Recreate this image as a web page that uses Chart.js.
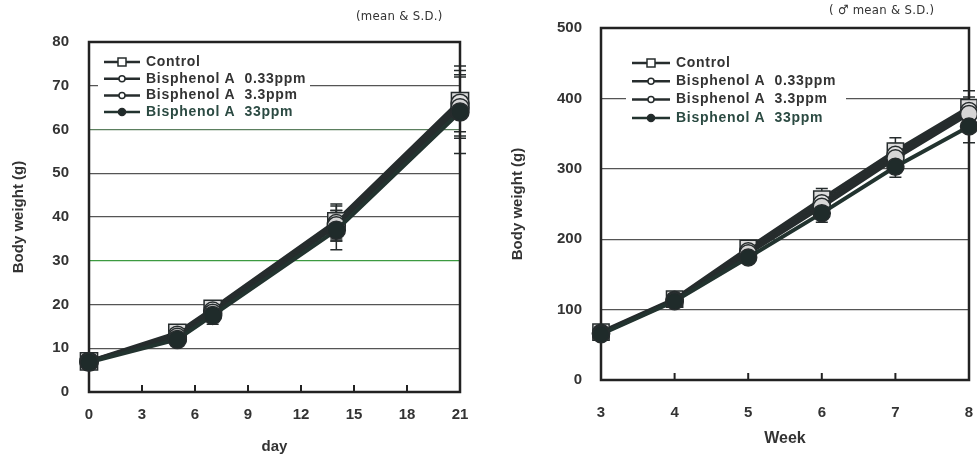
<!DOCTYPE html>
<html>
<head>
<meta charset="utf-8">
<script src="https://cdn.jsdelivr.net/npm/chart.js@4.4.1/dist/chart.umd.min.js"></script>
<style>
    html, body { margin: 0; padding: 0; background: #fff; }
    #wrap { position: relative; width: 977px; height: 460px; overflow: hidden; }
    .box { position: absolute; top: 0; height: 460px; }
    #left-box { left: 0; width: 490px; }
    #right-box { left: 490px; width: 487px; }
    .note { position: absolute; font-family: "DejaVu Sans Condensed", "Liberation Sans Narrow", sans-serif; font-size: 13px; color: #333; white-space: nowrap; letter-spacing: 0.3px; }
</style>
</head>
<body>
<div id="wrap">
    <div class="box" id="left-box"><canvas id="day-chart"></canvas></div>
    <div class="box" id="right-box"><canvas id="week-chart"></canvas></div>
    <div class="note" style="left:356px; top:8px;">(mean &amp; S.D.)</div>
    <div class="note" style="left:829px; top:2px;">( &#9794; mean &amp; S.D.)</div>
</div>
<script>

//---------------------------------------------------------------------------------------------
// - DATA -------------------------------------------------------------------------------------
//---------------------------------------------------------------------------------------------

var series_names = ["Control", "Bisphenol A  0.33ppm", "Bisphenol A  3.3ppm", "Bisphenol A  33ppm"];

var days = [0, 5, 7, 14, 21];
var day_control = [7, 13.5, 19, 39, 66.5];
var day_bpa_033 = [7, 13, 18.5, 38.5, 66];
var day_bpa_33 = [7, 12.5, 18, 38, 65];
var day_bpa_330 = [6.8, 12, 17.5, 37, 64];
var day_sd_control = [0.8, 1.2, 1.5, 4, 8];
var day_sd_bpa_033 = [0.8, 1.2, 1.5, 4, 6.5];
var day_sd_bpa_33 = [0.8, 1.2, 1.5, 3.5, 7];
var day_sd_bpa_330 = [0.8, 1.2, 2, 4.5, 9.5];
var day_x_ticks = [0, 3, 6, 9, 12, 15, 18, 21];
var day_y_ticks = [0, 10, 20, 30, 40, 50, 60, 70, 80];

var weeks = [3, 4, 5, 6, 7, 8];
var week_control = [68, 115, 187, 257, 325, 387];
var week_bpa_033 = [67, 114, 183, 251, 320, 382];
var week_bpa_33 = [66, 113, 180, 246, 315, 378];
var week_bpa_330 = [65, 112, 174, 237, 303, 360];
var week_sd_control = [4, 5, 7, 15, 19, 24];
var week_sd_bpa_033 = [4, 5, 7, 12, 16, 20];
var week_sd_bpa_33 = [4, 5, 7, 12, 16, 20];
var week_sd_bpa_330 = [4, 5, 8, 13, 15, 23];
var week_x_ticks = [3, 4, 5, 6, 7, 8];
var week_y_ticks = [0, 100, 200, 300, 400, 500];

//---------------------------------------------------------------------------------------------
// - STYLES -----------------------------------------------------------------------------------
//---------------------------------------------------------------------------------------------

var ink = "#262c2d";
var series_styles = [
    { style: 'rect', fill: "#dcdcdc", line: ink, text: "#333" },
    { style: 'circle', fill: "#e2e2e2", line: ink, text: "#333" },
    { style: 'circle', fill: "#d6d6d6", line: ink, text: "#333" },
    { style: 'circle', fill: "#1f2b2a", line: "#22332f", text: "#2b4a42" }
];

Chart.defaults.font.family = '"Liberation Sans", Arial, sans-serif';
Chart.defaults.font.weight = 'bold';
Chart.defaults.color = "#333";
Chart.defaults.animation = false;

function points(xs, ys) {
    return xs.map(function (x, i) { return { x: x, y: ys[i] }; });
}

function make_datasets(xs, values, sds, r) {
    return values.map(function (v, i) {
        var st = series_styles[i];
        return {
            label: series_names[i],
            data: points(xs, v),
            sd: sds[i],
            borderColor: st.line,
            borderWidth: 4,
            backgroundColor: st.fill,
            pointStyle: st.style,
            pointRadius: st.style === 'rect' ? r * 1.35 : r,
            pointBorderWidth: 1.5,
            pointBorderColor: ink,
            pointBackgroundColor: st.fill,
            order: 3 - i,
            clip: false,
            tension: 0
        };
    });
}

//---------------------------------------------------------------------------------------------
// - PLUGINS ----------------------------------------------------------------------------------
//---------------------------------------------------------------------------------------------

var error_bars = {
    id: 'errorBars',
    beforeDatasetsDraw: function (chart) {
        var ctx = chart.ctx;
        var xs = chart.scales.x, ys = chart.scales.y;
        ctx.save();
        ctx.strokeStyle = ink;
        ctx.lineWidth = 1.5;
        chart.data.datasets.forEach(function (ds) {
            ds.data.forEach(function (p, i) {
                var px = xs.getPixelForValue(p.x);
                var top = ys.getPixelForValue(p.y + ds.sd[i]);
                var bot = ys.getPixelForValue(p.y - ds.sd[i]);
                ctx.beginPath();
                ctx.moveTo(px, top); ctx.lineTo(px, bot);
                ctx.moveTo(px - 6, top); ctx.lineTo(px + 6, top);
                ctx.moveTo(px - 6, bot); ctx.lineTo(px + 6, bot);
                ctx.stroke();
            });
        });
        ctx.restore();
    }
};

var frame_box = {
    id: 'frameBox',
    beforeDatasetsDraw: function (chart) {
        var a = chart.chartArea, ctx = chart.ctx, xs = chart.scales.x;
        ctx.save();
        ctx.strokeStyle = "#222";
        ctx.lineWidth = 2.5;
        ctx.strokeRect(a.left, a.top, a.right - a.left, a.bottom - a.top);
        ctx.lineWidth = 2;
        xs.ticks.forEach(function (t, i) {
            if (i === 0 || i === xs.ticks.length - 1) return;
            var px = xs.getPixelForValue(t.value);
            ctx.beginPath();
            ctx.moveTo(px, a.bottom);
            ctx.lineTo(px, a.bottom - 7);
            ctx.stroke();
        });
        ctx.restore();
    }
};

var inner_legend = {
    id: 'innerLegend',
    afterDraw: function (chart) {
        var o = chart.options.plugins.innerLegend;
        var ctx = chart.ctx;
        ctx.save();
        ctx.fillStyle = "#fff";
        ctx.fillRect(o.x - 6, o.y - o.row / 2 - 2, o.w, o.row * 4 + 4);
        ctx.font = 'bold ' + o.size + 'px "Liberation Sans", Arial, sans-serif';
        ctx.letterSpacing = o.spacing + 'px';
        ctx.textBaseline = 'middle';
        chart.data.datasets.forEach(function (ds, i) {
            var st = series_styles[i];
            var y = o.y + i * o.row;
            var mx = o.x + o.len / 2;
            ctx.strokeStyle = st.line;
            ctx.lineWidth = 2.5;
            ctx.beginPath();
            ctx.moveTo(o.x, y); ctx.lineTo(o.x + o.len, y);
            ctx.stroke();
            ctx.lineWidth = 1.5;
            ctx.strokeStyle = ink;
            ctx.fillStyle = i === 3 ? st.fill : "#fff";
            ctx.beginPath();
            if (st.style === 'rect') {
                ctx.rect(mx - 4, y - 4, 8, 8);
            } else {
                ctx.arc(mx, y, i === 3 ? 3.5 : 3, 0, Math.PI * 2);
            }
            ctx.fill();
            ctx.stroke();
            ctx.fillStyle = st.text;
            ctx.fillText(ds.label, o.x + o.len + 6, y);
        });
        ctx.restore();
    }
};

function axis_ticks(arr) {
    return function (axis) {
        axis.ticks = arr.map(function (v) { return { value: v }; });
    };
}

function make_config(xs, values, sds, opt) {
    return {
        type: 'line',
        data: { datasets: make_datasets(xs, values, sds, opt.r) },
        plugins: [error_bars, frame_box, inner_legend],
        options: {
            responsive: false,
            maintainAspectRatio: false,
            layout: { autoPadding: false, padding: { top: opt.top, right: opt.right, left: 0, bottom: 0 } },
            plugins: {
                legend: { display: false },
                tooltip: { enabled: false },
                innerLegend: opt.legend
            },
            scales: {
                x: {
                    type: 'linear',
                    min: opt.xmin,
                    max: opt.xmax,
                    afterBuildTicks: axis_ticks(opt.xticks),
                    afterFit: function (s) { s.height = opt.xh; s.paddingLeft = 0; s.paddingRight = 0; },
                    grid: { display: false },
                    border: { display: false },
                    ticks: { padding: opt.xpad, font: { size: 15, weight: 'bold' }, color: "#333", maxRotation: 0, autoSkip: false },
                    title: { display: true, text: opt.xtitle, font: { size: opt.xtsize, weight: 'bold' }, color: "#333", padding: { top: 0, bottom: opt.xtpad } }
                },
                y: {
                    type: 'linear',
                    min: opt.ymin,
                    max: opt.ymax,
                    afterBuildTicks: axis_ticks(opt.yticks),
                    afterFit: function (s) { s.width = opt.yw; s.paddingTop = 0; s.paddingBottom = 0; },
                    grid: {
                        drawTicks: false,
                        lineWidth: 1.2,
                        color: function (c) {
                            if (c.tick && c.tick.value === opt.green) return "#3c9a40";
                            if (c.tick && c.tick.value === opt.green2) return "#5b7f5e";
                            return "#555";
                        }
                    },
                    border: { display: false },
                    ticks: { padding: opt.ypad, font: { size: 15, weight: 'bold' }, color: "#333" },
                    title: { display: true, text: 'Body weight (g)', font: { size: 15, weight: 'bold' }, color: "#333", padding: { top: opt.ytpad, bottom: 0 } }
                }
            }
        }
    };
}

//---------------------------------------------------------------------------------------------
// - DAY CHART --------------------------------------------------------------------------------
//---------------------------------------------------------------------------------------------

var day_canvas = document.getElementById("day-chart");
day_canvas.width = 490; day_canvas.height = 460;

new Chart(day_canvas.getContext("2d"), make_config(days,
    [day_control, day_bpa_033, day_bpa_33, day_bpa_330],
    [day_sd_control, day_sd_bpa_033, day_sd_bpa_33, day_sd_bpa_330],
    {
        r: 9, top: 42, right: 30, xmin: 0, xmax: 21, xticks: day_x_ticks, xh: 68, xpad: 6,
        xtitle: 'day', xtsize: 15, xtpad: 4, ymin: 0, ymax: 80, yticks: day_y_ticks, yw: 89,
        ypad: 20, ytpad: 10, green: 30, green2: 60,
        legend: { x: 104, y: 62, row: 16.7, len: 36, size: 14, spacing: 0.7, w: 212 }
    }));

//---------------------------------------------------------------------------------------------
// - WEEK CHART -------------------------------------------------------------------------------
//---------------------------------------------------------------------------------------------

var week_canvas = document.getElementById("week-chart");
week_canvas.width = 487; week_canvas.height = 460;

new Chart(week_canvas.getContext("2d"), make_config(weeks,
    [week_control, week_bpa_033, week_bpa_33, week_bpa_330],
    [week_sd_control, week_sd_bpa_033, week_sd_bpa_33, week_sd_bpa_330],
    {
        r: 8.5, top: 28, right: 8, xmin: 3, xmax: 8, xticks: week_x_ticks, xh: 80, xpad: 16,
        xtitle: 'Week', xtsize: 16, xtpad: 12, ymin: 0, ymax: 500, yticks: week_y_ticks, yw: 111,
        ypad: 19, ytpad: 19, green: null, green2: null,
        legend: { x: 142, y: 63, row: 18.3, len: 38, size: 14, spacing: 0.7, w: 220 }
    }));

</script>
</body>
</html>
